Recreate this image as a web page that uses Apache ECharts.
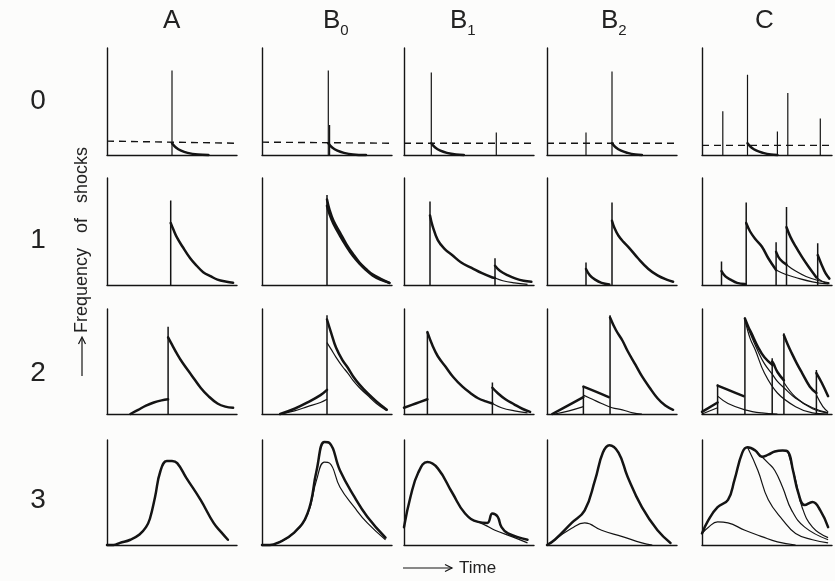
<!DOCTYPE html>
<html>
<head>
<meta charset="utf-8">
<script src="https://cdn.jsdelivr.net/npm/echarts@6/dist/echarts.min.js"></script>
<style>
  html, body { margin: 0; padding: 0; background: #fcfcfb; }
  #chart { width: 835px; height: 581px; }
</style>
</head>
<body>
<div id="chart"></div>
<script>
// Column and row headings
const colHeads = [['A', ''], ['B', '0'], ['B', '1'], ['B', '2'], ['C', '']];
const rowHeads = ['0', '1', '2', '3'];
const yTitle = 'Frequency   of   shocks';
const xTitle = 'Time';

// ---- Row 0: single shocks (spikes [time, height]), short tails, threshold level ----
const r0A_spikes = [[50, 79]];
const r0A_tail = [[50, 11], [53, 7], [57, 4], [62, 2], [70, 0.5], [78, 0]];
const r0A_level = [[0, 13], [100, 11]];
const r0B0_spikes = [[51, 79], [52, 28]];
const r0B0_tail = [[51, 11], [54, 7], [58, 4], [63, 2], [70, 0.5], [80, 0]];
const r0B0_level = [[0, 12], [100, 11]];
const r0B1_spikes = [[21, 77], [71, 21]];
const r0B1_tail = [[21, 11], [24, 7], [28, 4], [33, 2], [40, 0.5], [46, 0]];
const r0B1_level = [[0, 11], [100, 11]];
const r0B2_spikes = [[30, 21], [50, 78]];
const r0B2_tail = [[50, 11], [53, 7], [57, 4], [62, 2], [68, 0.5], [73, 0]];
const r0B2_level = [[0, 11], [100, 11]];
const r0C_spikes = [[16, 41], [35, 75], [58, 22], [66, 58], [91, 34]];
const r0C_tail = [[35, 11], [38, 7], [42, 4], [47, 2], [53, 0.5], [58, 0]];
const r0C_level = [[0, 9], [100, 9]];

// ---- Row 1: responses to each shock ----
const r1A_spikes = [[49, 79]];
const r1A_resp = [[49, 58], [51, 52], [54, 44], [58, 36], [64, 25], [69, 18], [74, 12], [80, 8], [85, 5], [92, 3], [97, 2]];
const r1B0_spikes = [[50, 84]];
const r1B0_respA = [[50, 80], [52, 70], [55, 60], [60, 49], [65, 38], [70, 29], [75, 21], [80, 15], [85, 10], [91, 6], [98, 2]];
const r1B0_respB = [[50, 74], [52, 66], [55, 57], [60, 46], [65, 36], [70, 27], [75, 20], [80, 14], [85, 9], [91, 5], [98, 2]];
const r1B1_spikes = [[20, 78], [70, 25]];
const r1B1_resp1 = [[20, 65], [22, 55], [26, 42], [31, 34], [37, 28], [44, 21], [52, 16], [60, 11], [68, 7], [70, 6.5]];
const r1B1_rest1 = [[70, 6.5], [76, 4], [85, 2], [95, 0.5]];
const r1B1_resp2 = [[70, 18], [74, 13], [80, 9], [86, 6], [92, 4], [98, 3]];
const r1B2_spikes = [[30, 21], [50, 77]];
const r1B2_resp1 = [[30, 15], [33, 9], [37, 5], [42, 2], [48, 0.5]];
const r1B2_resp2 = [[50, 60], [52, 53], [55, 46], [59, 40], [63, 35], [70, 25], [78, 15], [85, 9], [92, 5], [97, 3]];
const r1C_spikes = [[15, 22], [34, 77], [57, 40], [65, 73], [89, 39]];
const r1C_resp1 = [[15, 13], [18, 8], [22, 5], [27, 2], [33, 1]];
const r1C_resp2 = [[34, 58], [37, 50], [41, 43], [46, 36], [51, 25], [57, 14]];
const r1C_rest2 = [[57, 14], [64, 10], [72, 7], [85, 3], [97, 1]];
const r1C_resp3 = [[57, 31], [60, 24], [65, 19]];
const r1C_rest3 = [[65, 19], [72, 13], [80, 8], [90, 4], [98, 2]];
const r1C_resp4 = [[65, 54], [68, 45], [72, 36], [77, 26], [82, 17], [88, 7]];
const r1C_rest4 = [[88, 7], [93, 3], [98, 1]];
const r1C_resp5 = [[89, 28], [92, 19], [95, 11], [98, 6]];

// ---- Row 2: responses with build-up before the shocks ----
const r2A_spikes = [[47, 83]];
const r2A_rise = [[18, 0], [24, 4], [30, 8], [36, 11], [42, 13], [47, 14]];
const r2A_resp = [[47, 73], [50, 66], [54, 57], [58, 49], [65, 37], [72, 25], [78, 17], [85, 10], [91, 7], [97, 6]];
const r2B0_spikes = [[50, 94]];
const r2B0_riseA = [[14, 0], [25, 5], [35, 11], [45, 18], [50, 23]];
const r2B0_riseB = [[14, 0], [25, 3], [35, 7], [45, 11], [50, 14]];
const r2B0_respA = [[50, 90], [53, 78], [57, 63], [62, 51], [66, 44], [70, 36], [75, 28], [81, 20], [88, 12], [96, 4]];
const r2B0_respB = [[50, 68], [53, 62], [57, 54], [62, 45], [66, 39], [70, 32], [75, 25], [81, 18], [88, 10], [96, 3]];
const r2B1_spikes = [[18, 78], [68, 30]];
const r2B1_rise = [[0, 6], [9, 10], [18, 14]];
const r2B1_resp1 = [[18, 78], [22, 65], [26, 55], [32, 45], [38, 35], [45, 26], [51, 20], [57, 15], [63, 12], [68, 10]];
const r2B1_rest1 = [[68, 10], [75, 6], [85, 3], [95, 1]];
const r2B1_resp2 = [[68, 25], [72, 20], [78, 14], [85, 9], [91, 5], [97, 2]];
const r2B2_spikes = [[28, 27], [48.5, 94]];
const r2B2_riseA = [[4, 0], [16, 8], [28, 16]];
const r2B2_riseB = [[6, 0], [17, 3], [28, 7]];
const r2B2_plateau = [[28, 26], [38, 21], [47.5, 16]];
const r2B2_rest1 = [[28, 18], [35, 14], [42, 10], [50, 6], [58, 4], [66, 1], [73, 0]];
const r2B2_resp2 = [[48.5, 92], [53, 80], [58, 70], [62, 60], [68, 47], [73, 36], [79, 25], [85, 15], [91, 8], [97, 4]];
const r2C_spikes = [[12, 28], [33, 92], [54, 53], [63, 77], [88, 42]];
const r2C_riseA = [[0, 2], [12, 11]];
const r2C_riseB = [[0, 0], [12, 6]];
const r2C_plateau = [[12, 27], [22, 22], [32, 17]];
const r2C_rest1 = [[12, 17], [20, 10], [33, 4], [46, 1], [58, 0]];
const r2C_fanLow = [[33, 90], [37, 72], [41, 61], [48, 39], [58, 20], [72, 7], [85, 1], [97, 0]];
const r2C_fanMid = [[33, 91], [38, 74], [43, 60], [48, 48], [54, 38], [58, 31], [63, 25], [72, 15], [85, 6], [97, 1]];
const r2C_fanTop = [[33, 91], [36, 82], [38, 77], [43, 64], [48, 54], [54, 47]];
const r2C_resp3 = [[54, 50], [55, 48], [58, 40], [63, 32]];
const r2C_rest3 = [[63, 30], [72, 16], [85, 5], [97, 1]];
const r2C_resp4 = [[63, 75], [66, 66], [69, 58], [73, 48], [77, 39], [83, 26], [88, 20]];
const r2C_rest4 = [[88, 18], [93, 7], [97, 2]];
const r2C_resp5 = [[88, 39], [92, 30], [97, 17]];

// ---- Row 3: smoothed frequency curves ----
const r3A_total = [[0, 0], [5, 0], [10, 2], [18, 5], [25, 10], [30, 17], [33, 25], [37, 46], [41, 70], [46, 80], [50, 80], [54, 78], [61, 64], [72, 43], [82, 21], [88, 12], [93, 5]];
const r3B0_total = [[0, 0], [6, 0], [12, 2], [24, 11], [35, 30], [42, 71], [48, 98], [52, 97], [60, 71], [71, 46], [81, 27], [95, 7]];
const r3B0_part = [[12, 2], [24, 11], [35, 29], [42, 62], [48, 79], [52, 78], [60, 55], [71, 36], [81, 21], [95, 5]];
const r3B1_total = [[0, 17], [5, 46], [11, 69], [18, 79], [26, 73], [37, 50], [47, 30], [57, 22], [64, 21], [68, 30], [72, 27], [75, 17], [80, 11], [95, 5]];
const r3B1_part = [[57, 22], [64, 18], [70, 14], [83, 8], [95, 2]];
const r3B2_total = [[0, 0], [6, 5], [19, 21], [29, 33], [37, 62], [43, 88], [48, 95], [55, 88], [62, 65], [73, 36], [85, 14], [95, 2]];
const r3B2_part = [[6, 5], [19, 16], [29, 21], [42, 14], [58, 8], [73, 2], [81, 0]];
const r3C_total = [[0, 11], [5, 24], [12, 36], [20, 43], [25, 62], [31, 88], [35, 93], [41, 90], [46, 84], [51, 86], [56, 89], [62, 90], [66, 89], [70, 71], [74, 50], [79, 38], [85, 41], [91, 33], [97, 17]];
const r3C_part1 = [[35, 93], [43, 71], [51, 43], [62, 24], [72, 11], [85, 5], [97, 2]];
const r3C_part2 = [[41, 90], [51, 78], [56, 71], [62, 55], [69, 33], [79, 17], [97, 5]];
const r3C_part3 = [[66, 89], [72, 62], [77, 36], [85, 17], [97, 7]];
const r3C_low = [[0, 11], [5, 17], [12, 22], [20, 21], [33, 14], [46, 8], [58, 3], [72, 0]];

// Panel layout (pixels)
const colLeft = [107, 262, 404, 547, 702];
const panelWidth = 130;
const rowTop = [48, 178, 309, 440];
const rowHeight = [107, 107, 105, 105];

// Panel contents, row by row, column by column
const panels = [
  // row 0
  { spikes: r0A_spikes, thick: [r0A_tail], thin: [], dashed: [r0A_level] },
  { spikes: r0B0_spikes, thick: [r0B0_tail], thin: [], dashed: [r0B0_level] },
  { spikes: r0B1_spikes, thick: [r0B1_tail], thin: [], dashed: [r0B1_level] },
  { spikes: r0B2_spikes, thick: [r0B2_tail], thin: [], dashed: [r0B2_level] },
  { spikes: r0C_spikes, thick: [r0C_tail], thin: [], dashed: [r0C_level] },
  // row 1
  { spikes: r1A_spikes, thick: [r1A_resp], thin: [] },
  { spikes: r1B0_spikes, thick: [r1B0_respA, r1B0_respB], thin: [] },
  { spikes: r1B1_spikes, thick: [r1B1_resp1, r1B1_resp2], thin: [r1B1_rest1] },
  { spikes: r1B2_spikes, thick: [r1B2_resp1, r1B2_resp2], thin: [] },
  { spikes: r1C_spikes, thick: [r1C_resp1, r1C_resp2, r1C_resp3, r1C_resp4, r1C_resp5], thin: [r1C_rest2, r1C_rest3, r1C_rest4] },
  // row 2
  { spikes: r2A_spikes, thick: [r2A_rise, r2A_resp], thin: [] },
  { spikes: r2B0_spikes, thick: [r2B0_riseA, r2B0_respA], thin: [r2B0_riseB, r2B0_respB] },
  { spikes: r2B1_spikes, thick: [r2B1_rise, r2B1_resp1, r2B1_resp2], thin: [r2B1_rest1] },
  { spikes: r2B2_spikes, thick: [r2B2_riseA, r2B2_plateau, r2B2_resp2], thin: [r2B2_riseB, r2B2_rest1] },
  { spikes: r2C_spikes, thick: [r2C_riseA, r2C_plateau, r2C_fanTop, r2C_resp3, r2C_resp4, r2C_resp5], thin: [r2C_riseB, r2C_rest1, r2C_fanLow, r2C_fanMid, r2C_rest3, r2C_rest4] },
  // row 3
  { spikes: [], thick: [r3A_total], thin: [] },
  { spikes: [], thick: [r3B0_total], thin: [r3B0_part] },
  { spikes: [], thick: [r3B1_total], thin: [r3B1_part] },
  { spikes: [], thick: [r3B2_total], thin: [r3B2_part] },
  { spikes: [], thick: [r3C_total], thin: [r3C_part1, r3C_part2, r3C_part3, r3C_low] }
];

const INK = '#141414';
const grids = [], xAxes = [], yAxes = [], series = [];

panels.forEach(function (p, i) {
  const row = Math.floor(i / 5), col = i % 5;
  grids.push({ left: colLeft[col], top: rowTop[row], width: panelWidth, height: rowHeight[row] });
  const axisLine = { show: true, onZero: false, lineStyle: { color: INK, width: 1.4 } };
  xAxes.push({ gridIndex: i, type: 'value', min: 0, max: 100, axisLine: axisLine,
    axisTick: { show: false }, axisLabel: { show: false }, splitLine: { show: false } });
  yAxes.push({ gridIndex: i, type: 'value', min: 0, max: 100, axisLine: axisLine,
    axisTick: { show: false }, axisLabel: { show: false }, splitLine: { show: false } });

  const smoothness = row === 3 ? 0.45 : 0.4;
  const base = { type: 'line', xAxisIndex: i, yAxisIndex: i, symbol: 'none', silent: true,
    animation: false, clip: false };

  p.spikes.forEach(function (s) {
    series.push(Object.assign({}, base, { data: [[s[0], 0], [s[0], s[1]]], smooth: false,
      lineStyle: { color: INK, width: row === 0 ? 1.2 : 1.5 } }));
  });
  p.thick.forEach(function (d) {
    series.push(Object.assign({}, base, { data: d, smooth: smoothness,
      lineStyle: { color: INK, width: 2.5, cap: 'round', join: 'round' } }));
  });
  p.thin.forEach(function (d) {
    series.push(Object.assign({}, base, { data: d, smooth: smoothness,
      lineStyle: { color: INK, width: 1.2 } }));
  });
  (p.dashed || []).forEach(function (d) {
    series.push(Object.assign({}, base, { data: d, smooth: false,
      lineStyle: { color: INK, width: 1.4, type: [7, 5] } }));
  });
});

// Headings and axis titles
const HEAD_FONT = '"Liberation Sans Narrow", "Liberation Sans", sans-serif';
const colCenters = [171, 331, 458, 609, 763];
const rowCenters = [101, 240, 373, 500];
const graphics = [];
colHeads.forEach(function (h, c) {
  graphics.push({ type: 'text', left: colCenters[c] - 8, top: 8, silent: true,
    style: { text: '{b|' + h[0] + '}' + (h[1] ? '{s|' + h[1] + '}' : ''),
      rich: { b: { fontSize: 26, fontFamily: HEAD_FONT, fill: '#222', verticalAlign: 'bottom' },
              s: { fontSize: 15, fontFamily: HEAD_FONT, fill: '#222', verticalAlign: 'bottom', padding: [0, 0, -4, 0] } } } });
});
rowHeads.forEach(function (t, r) {
  graphics.push({ type: 'text', x: 38, y: rowCenters[r], silent: true,
    style: { text: t, fontSize: 28, fontFamily: HEAD_FONT, fill: '#222', align: 'center', verticalAlign: 'middle' } });
});
// vertical title with arrow, reading upward
graphics.push({ type: 'line', silent: true, shape: { x1: 82, y1: 376, x2: 82, y2: 338 }, style: { stroke: INK, lineWidth: 1.2 } });
graphics.push({ type: 'polyline', silent: true, shape: { points: [[78.5, 344], [82, 337], [85.5, 344]] }, style: { stroke: INK, lineWidth: 1.2, fill: null } });
graphics.push({ type: 'text', x: 82, y: 333, rotation: Math.PI / 2, silent: true,
  style: { text: yTitle, fontSize: 18, fontFamily: 'Liberation Sans', fill: '#222', align: 'left', verticalAlign: 'middle' } });
// horizontal title with arrow
graphics.push({ type: 'line', silent: true, shape: { x1: 403, y1: 568, x2: 452, y2: 568 }, style: { stroke: INK, lineWidth: 1.2 } });
graphics.push({ type: 'polyline', silent: true, shape: { points: [[445, 564.5], [452, 568], [445, 571.5]] }, style: { stroke: INK, lineWidth: 1.2, fill: null } });
graphics.push({ type: 'text', x: 459, y: 568, silent: true,
  style: { text: xTitle, fontSize: 17, fontFamily: 'Liberation Sans', fill: '#222', align: 'left', verticalAlign: 'middle' } });

const chart = echarts.init(document.getElementById('chart'), null, { renderer: 'canvas' });
chart.setOption({
  backgroundColor: '#fcfcfb',
  animation: false,
  grid: grids,
  xAxis: xAxes,
  yAxis: yAxes,
  series: series,
  graphic: graphics
});
</script>
</body>
</html>
